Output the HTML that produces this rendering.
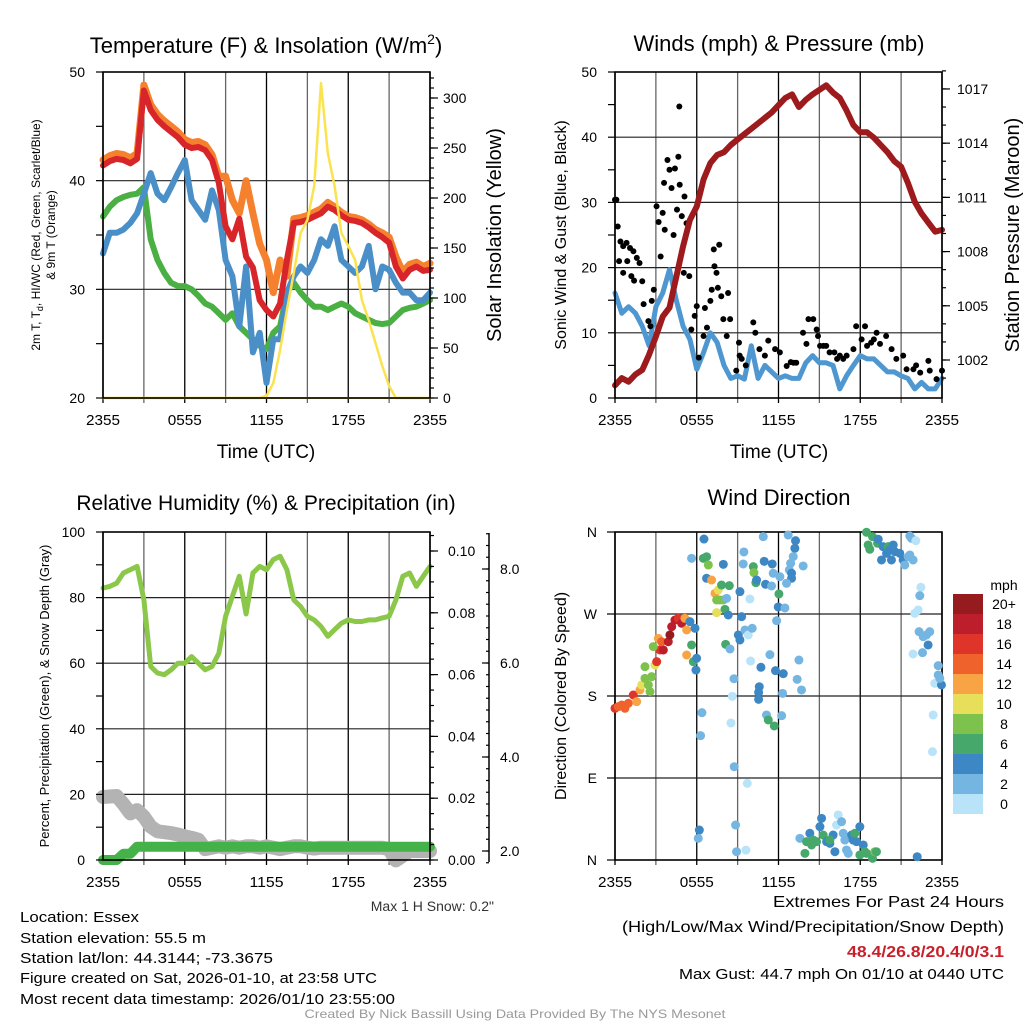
<!DOCTYPE html>
<html><head><meta charset="utf-8"><style>
html,body{margin:0;padding:0;background:#fff;}
svg{display:block;font-family:"Liberation Sans",Arial,sans-serif;}
</style></head><body>
<svg id="chart" width="1024" height="1024" viewBox="0 0 1024 1024" xmlns="http://www.w3.org/2000/svg">
<rect width="1024" height="1024" fill="#fff"/>
<g id="p1"></g>
<g id="p2"></g>
<g id="p3"></g>
<g id="p4"></g>
<g id="txt"></g>
</svg>
<script>
// ---- data ----
const hours = [0,0.5,1,1.5,2,2.5,3,3.5,4,4.5,5,5.5,6,6.5,7,7.5,8,8.5,9,9.5,10,10.5,11,11.5,12,12.5,13,13.5,14,14.5,15,15.5,16,16.5,17,17.5,18,18.5,19,19.5,20,20.5,21,21.5,22,22.5,23,23.5,24];
const timeLabels = ["2355","0555","1155","1755","2355"];
const tempRed = [41.4,41.8,42.0,41.9,41.6,42.0,48.3,46.5,45.6,45.0,44.5,44.0,43.3,43.0,43.1,42.8,41.9,39.8,35.8,34.6,36.5,33.0,32.0,29.0,28.1,27.5,28.7,32.7,36.1,36.2,36.4,36.7,37.0,37.6,37.3,36.8,36.4,36.3,36.1,35.7,35.2,34.8,34.3,32.1,31.0,31.8,32.1,31.7,31.8];
const temp9m = [41.9,42.3,42.5,42.4,42.1,42.5,48.8,47.0,46.1,45.5,45.0,44.5,43.8,43.5,43.6,43.3,42.4,40.4,40.4,38.2,37.0,40.0,37.0,34.2,32.7,29.7,32.7,31.2,36.5,36.6,36.8,37.1,37.4,38.0,37.6,37.1,36.7,36.6,36.4,36.0,35.5,35.2,34.8,33.0,31.6,32.3,32.5,32.1,32.4];
const tempHiWc = [33.3,35.2,35.2,35.5,36.1,37.0,38.8,40.7,38.8,38.2,39.4,40.7,41.9,38.2,37.3,36.4,39.1,37.3,32.7,31.2,26.6,32.1,24.2,26.0,21.4,25.4,25.4,29.7,31.2,32.1,31.5,32.7,34.6,34.0,35.8,32.7,32.1,31.5,32.1,34.0,30.0,32.1,31.8,30.6,29.7,29.7,29.0,29.0,29.7];
const dewpoint = [36.7,37.6,38.2,38.5,38.7,38.8,39.4,34.6,32.7,31.5,30.6,30.3,30.3,30.0,29.4,28.7,28.4,27.8,27.2,27.8,26.6,26.0,25.4,24.8,24.5,26.0,26.6,29.7,30.6,29.7,29.0,28.4,28.4,28.1,28.4,28.7,28.4,27.8,27.5,27.2,26.9,26.8,26.9,27.5,28.1,28.3,28.4,28.7,29.0];
const solar = [0,0,0,0,0,0,0,0,0,0,0,0,0,0,0,0,0,0,0,0,0,0,0,0,2,15,48,88,125,165,178,212,315,245,212,165,152,138,98,78,55,32,12,0,0,0,0,0,0];
const windSpeed = [16.1,13,14,13,11,8,14,16.1,19.7,15,11,9,4.4,7,10,8.5,5,3,3.4,2.9,8,3,5,4,3,3.4,3,3,5.4,6.5,5.4,5.4,5,1.4,3.4,5,6.5,6,6,5,4,4,3.4,3,1.4,2.4,1.4,1.4,3];
const pressure = [1000.6,1001.0,1000.8,1001.2,1001.45,1002.3,1003.3,1004.4,1004.9,1006.6,1008.3,1009.75,1010.5,1012.0,1012.9,1013.35,1013.5,1013.9,1014.2,1014.5,1014.8,1015.1,1015.4,1015.7,1016.1,1016.5,1016.7,1016.0,1016.4,1016.7,1016.95,1017.2,1016.8,1016.5,1015.8,1015.0,1014.6,1014.6,1014.3,1013.9,1013.5,1013.0,1012.7,1011.8,1010.75,1010.1,1009.6,1009.1,1009.2];
const gustHours = [0,0.1,0.2,0.4,0.6,0.85,1.1,1.35,1.6,0.3,0.6,1.2,1.8,2.0,2.1,2.45,2.6,2.7,2.85,3.05,3.2,3.35,3.5,3.6,3.65,3.85,4.0,4.15,4.3,4.4,4.55,4.65,4.72,4.75,4.9,5.1,5.25,5.05,5.45,5.6,5.85,6,6.15,6.5,6.6,6.75,7,7.1,7.25,7.3,7.45,7.55,7.65,7.8,7.95,8.2,8.3,8.45,8.9,9.15,9.3,9.1,10.15,10.3,10.6,11.25,11.75,12.1,12.6,13.1,13.3,13.8,14.05,14.2,14.55,14.8,14.9,15.05,15.3,15.5,15.75,16.1,16.3,16.75,17.0,17.5,17.7,18.35,18.5,18.8,19.2,19.45,19.9,20.3,20.65,21.15,21.4,21.9,22.4,23,23.1,23.6,24,0.9,1.4,9.6,11.0,12.9,16.5,18.1,19.0,22.1];
const gustVals = [30.4,30.4,26.3,24,23.3,23.8,23,22.5,21.5,21,19.2,18.7,20.7,17.9,14.4,11.8,11,14.9,16.6,29.4,27,21.7,28.4,33,25.8,36.5,35,32.2,25,35.2,28.9,37,44.7,32.7,27.9,30.9,26.8,19.2,18.7,10.5,12.6,14.1,6.2,9.5,13.8,10.8,14.9,16.6,22.8,20.2,19.2,16.9,23.5,15.6,12.1,9.5,16.1,12.1,4.2,6.5,6,8.5,11.6,10,7.5,8.8,7.5,7,4.9,5.4,5.4,10,8.3,12.1,12.1,10.5,9.5,8,8,8,7,7,6,6,6.5,7.5,11,11,8,8.5,10,8.3,9.5,7.5,6,6.5,4.4,4.4,3.9,5.7,4.2,2.9,4.2,21.0,18.0,5.0,6.5,5.5,6.5,9.0,9.0,5.0];
const rh = [82.9,83.4,84.4,87.5,88.5,89.5,79.3,59,57,56.5,58,60,60,62,60,58,59,63,74.3,80.4,86.5,75,87.5,89.5,88.5,91.6,92.6,88.5,79.3,77.3,74.3,73.2,71.2,68.2,70.2,72.2,73.2,72.7,72.7,73.2,73.2,73.8,74.3,79.3,86.5,87.5,83.4,86.5,89.5];
const precip = [0,0,0,0.002,0.002,0.0043,0.0043,0.0043,0.0043,0.0043,0.0043,0.0043,0.0043,0.0043,0.0043,0.0043,0.0043,0.0043,0.0043,0.0043,0.0043,0.0043,0.0043,0.0043,0.0043,0.0043,0.0043,0.0043,0.0043,0.0043,0.0043,0.0043,0.0043,0.0043,0.0043,0.0043,0.0043,0.0043,0.0043,0.0043,0.0043,0.0043,0.0043,0.0043,0.0043,0.0043,0.0043,0.0043,0.0043];
const snowDepth = [3.15,3.16,3.17,3.0,2.8,2.87,2.73,2.52,2.42,2.4,2.38,2.35,2.31,2.28,2.24,2.04,2.07,2.1,2.07,2.1,2.07,2.1,2.1,2.07,2.1,2.07,2.04,2.07,2.1,2.1,2.07,2.05,2.07,2.07,2.07,2.07,2.07,2.07,2.07,2.07,2.07,2.07,2.04,1.8,1.9,2.0,2.0,2.0,2.0];
const dirHours = [0.0,0.24,0.49,0.73,0.98,1.34,1.59,1.83,1.96,2.2,2.45,2.57,2.69,2.2,2.93,3.06,3.3,3.55,2.81,3.18,3.42,3.91,4.03,4.16,4.4,4.65,4.89,5.13,5.26,5.5,5.87,5.62,5.26,5.75,5.99,5.94,
5.62,6.48,6.72,6.85,6.53,6.72,7.09,7.34,7.58,7.82,7.7,7.46,7.95,8.39,8.19,7.46,8.07,8.31,7.95,9.29,9.17,9.05,9.17,9.54,9.78,10.07,9.46,9.9,9.41,10.15,10.2,10.34,10.39,10.88,10.95,11.05,11.54,11.49,11.61,12.03,11.98,12.47,12.71,13.25,13.2,13.08,13.81,12.89,12.79,12.96,12.96,12.59,12.1,11.86,8.12,8.44,8.73,8.61,11.37,9.95,10.71,11.78,12.35,13.5,13.37,13.69,12.3,10.59,10.54,10.54,11.12,11.25,11.69,12.23,6.38,6.28,8.51,8.75,9.71,8.85,8.92,9.61,6.19,6.11,
18.46,18.9,18.58,18.7,19.27,19.32,19.68,19.56,19.93,20.05,20.17,20.29,20.42,20.54,20.9,21.15,21.27,21.52,21.64,21.76,21.64,22.08,21.88,22.45,22.37,22.25,22.0,22.32,22.62,22.86,23.1,22.98,22.57,21.88,23.72,23.72,23.47,23.96,23.84,23.35,23.3,22.18,
13.57,13.94,14.06,14.3,14.43,14.79,15.04,15.16,15.28,15.53,15.77,16.01,16.14,16.38,16.26,16.63,16.75,16.87,16.99,17.12,17.36,17.48,17.6,17.73,17.97,17.97,18.22,18.34,18.46,18.9,19.07,19.19,15.77,14.55];
const dirDegs = [166.5,168.3,170.1,166.5,172,181.1,173.8,186.6,192.1,199.4,192.1,184.8,201.2,212.2,214,217.7,230.5,230.5,234.2,243.3,239.6,239.6,247,256.1,263.4,265.3,259.8,265.3,252.5,261.6,254.3,236,225,217.7,221.4,208.5,
331.1,331.1,332.9,323.8,352.3,309.2,307.3,292.7,296.4,301.8,285.4,285.4,285.4,301.1,287.2,271.5,275.1,268.9,324.5,267.1,294.5,247,241.5,252.5,247,254.3,338.1,286.5,324.9,322,315.4,304.4,307.3,354.9,327.8,302.6,324.9,300.8,314.7,292,277.7,276.6,356.7,350.5,342.1,333,322.7,325.6,318.3,314.7,309.2,303.7,311,262.7,236.7,231.6,199,179.6,225.4,218.4,211.5,207.8,204.5,219.5,198.3,186.6,182.9,190.2,184,176.3,159.2,153.7,147.1,158.4,161.7,136.5,150.4,102.4,84.1,38.4,9.1,10.9,32.9,23.8,
359.7,354.9,345.8,341,347.6,352,343.9,329.3,336.6,343.9,340.3,329.3,345.8,338.4,336.6,329.3,323.8,332.9,334.8,353.1,355.6,350.5,329.3,299.3,290.1,274.4,270.8,250.6,245.1,247,250.6,236,227.6,226.1,213.3,203.1,193.9,192.1,199.4,159.2,118.9,3.6,
23.8,7.3,20.1,29.3,16.5,20.1,36.6,45.7,27.4,20.1,18.3,27.4,9.1,49.4,38.4,42.1,29.3,21.9,11,7.3,27.4,21.9,29.3,20.1,36.6,5.5,16.5,9.1,7.3,1.8,9.1,9.1,21.9,21.9];
const dirSpeeds = [16,14,14,14,14,16,12,12,10,8,8,8,8,8,10,16,16,18,8,12,14,18,20,18,18,16,18,12,12,4,4,6,12,6,4,4,
2,6,6,8,4,4,12,12,10,6,8,8,8,6,2,10,6,4,4,4,4,4,4,2,0,2,2,0,2,6,8,6,4,2,4,4,4,2,2,6,4,2,2,4,4,2,2,2,2,4,4,2,2,2,6,2,2,0,2,0,4,4,4,2,2,2,2,4,4,4,2,6,6,2,2,2,0,2,0,2,2,0,4,2,
6,6,6,6,6,4,4,4,4,6,4,4,4,4,4,4,2,2,2,2,2,0,2,0,2,0,0,2,2,2,2,4,2,0,2,2,0,4,2,0,0,4,
2,6,6,4,6,6,4,4,6,4,4,4,4,0,0,2,2,2,2,2,4,4,6,4,4,6,4,6,6,6,8,6,6,6];
const speedBins = ["0","2","4","6","8","10","12","14","16","18","20+"];
const speedColors = ["#b9e3f8","#74b5e1","#3d87c4","#46a86b","#7cc24c","#e7df5a","#f8a445","#f0622b","#df3429","#bd1e2c","#961b1e"];

// ---- helpers ----
const NS="http://www.w3.org/2000/svg";
function mk(parent,tag,attrs){const e=document.createElementNS(NS,tag);for(const k in attrs)e.setAttribute(k,attrs[k]);parent.appendChild(e);return e;}
function txt(parent,x,y,s,size,anchor,extra){const e=mk(parent,'text',Object.assign({x:x,y:y,'font-size':size,'text-anchor':anchor||'middle',fill:'#000'},extra||{}));e.textContent=s;return e;}
const P1=document.getElementById('p1'),P2=document.getElementById('p2'),P3=document.getElementById('p3'),P4=document.getElementById('p4'),T=document.getElementById('txt');

const X1=h=>103+h*327/24, X2=h=>615+h*327/24;
const yT=t=>398-(t-20)*326/30, yS=w=>398-w*1.0;
const yW=v=>398-v*6.52, yP=p=>360-(p-1002)*18.07;
const yR=r=>860-r*3.28, yPr=p=>860-p*3090, ySn=d=>851-(d-2)*47;
const yD=d=>860-d*328/360;

function frame(g,x0,y0,x1,y1,xf){
  for(let h=0;h<=24;h+=3){
    const l=mk(g,'line',{x1:xf(h),x2:xf(h),y1:y0,y2:y1+5,stroke:(h%6==0)?'#000':'#666','stroke-width':1.3});
    
    
  }
  timeLabels.forEach((s,i)=>{
    const t=txt(g,xf(i*6),y1+27,s,15,'middle',{textLength:34,lengthAdjust:'spacingAndGlyphs'});
    
    
  });
}
function hgrid(g,x0,x1,y){const l=mk(g,'line',{x1:x0,x2:x1,y1:y,y2:y,stroke:'#222','stroke-width':1.2});
  
  }
function box(g,x0,y0,x1,y1){const r=mk(g,'rect',{x:x0,y:y0,width:x1-x0,height:y1-y0,fill:'none',stroke:'#000','stroke-width':1.6});
  
  }
function ticks(g,x,vals,yf,len,side){vals.forEach(v=>{const y=yf(v);mk(g,'line',{x1:x,x2:x+side*len,y1:y,y2:y,stroke:'#000','stroke-width':1.2});});}
function polyline(g,xs,ys,color,w,name){
  const pts=xs.map((x,i)=>x.toFixed(1)+','+ys[i].toFixed(1)).join(' ');
  const p=mk(g,'polyline',{points:pts,fill:'none',stroke:color,'stroke-width':w,'stroke-linejoin':'round','stroke-linecap':'round'});
  
  
  return p;
}
function range(a,b,s){const r=[];for(let v=a;v<=b+1e-9;v+=s)r.push(+v.toFixed(4));return r;}

// ---- Panel 1 ----
(function(){
  const g=P1;
  frame(g,103,72,430,398,X1);
  [30,40].forEach(v=>hgrid(g,103,430,yT(v)));
  polyline(g,hours.map(X1),dewpoint.map(yT),'#4bb044',6,'dewpoint-line');
  polyline(g,hours.map(X1),tempHiWc.map(yT),'#4a8fc7',6,'heat-index-windchill-line');
  polyline(g,hours.map(X1),temp9m.map(yT),'#f5812e',7,'temp-9m-line');
  polyline(g,hours.map(X1),tempRed.map(yT),'#d7252a',6,'temp-2m-line');
  polyline(g,hours.map(X1),solar.map(yS),'#fbe34f',2.5,'solar-insolation-line');
  mk(g,'line',{x1:103,x2:430,y1:398,y2:398,stroke:'#f2d33c','stroke-width':2});
  box(g,103,72,430,398);
  ticks(g,103,range(20,50,5),yT,7,-1);
  [20,30,40,50].forEach(v=>{const t=txt(g,85,yT(v)+5,String(v),14,'end');
    
    });
  ticks(g,430,range(0,320,10),yS,4,1);
  ticks(g,430,range(0,300,50),yS,8,1);
  [0,50,100,150,200,250,300].forEach(v=>{const t=txt(g,443,yS(v)+5,String(v),14,'start');
    
    });
  const ti=txt(g,266,53,'',22,'middle');ti.innerHTML='Temperature (F) &amp; Insolation (W/m<tspan font-size="14" dy="-9">2</tspan><tspan dy="9">)</tspan>';
  
  
  const xt=txt(g,266,458,'Time (UTC)',19,'middle');
  
  
  const y1=txt(g,0,0,'',12,'middle',{transform:'translate(40,235) rotate(-90)'});
  y1.innerHTML='2m T, T<tspan font-size="9" dy="3">d</tspan><tspan dy="-3">, HI/WC (Red, Green, Scarlet/Blue)</tspan>';
  
  
  const y2=txt(g,0,0,'& 9m T (Orange)',12,'middle',{transform:'translate(55,235) rotate(-90)'});
  
  
  const yr=txt(g,0,0,'Solar Insolation (Yellow)',20,'middle',{transform:'translate(501,235) rotate(-90)'});
  
  
})();

// ---- Panel 2 ----
(function(){
  const g=P2;
  frame(g,615,72,942,398,X2);
  [10,20,30,40].forEach(v=>hgrid(g,615,942,yW(v)));
  polyline(g,hours.map(X2),windSpeed.map(yW),'#4e97d0',5,'sonic-wind-line');
  gustHours.forEach((h,i)=>{const c=mk(g,'circle',{cx:X2(h),cy:yW(gustVals[i]),r:3,fill:'#000'});
    
    });
  polyline(g,hours.map(X2),pressure.map(yP),'#9e1b1d',6,'pressure-line');
  box(g,615,72,942,398);
  ticks(g,615,range(0,50,5),yW,7,-1);
  range(0,50,10).forEach(v=>{const t=txt(g,597,yW(v)+5,String(v),14,'end');
    
    });
  ticks(g,942,range(1001,1018,1),yP,4,1);
  ticks(g,942,range(1002,1017,3),yP,8,1);
  range(1002,1017,3).forEach(v=>{const t=txt(g,957,yP(v)+5,String(v),14,'start');
    
    });
  const ti=txt(g,779,51,'Winds (mph) & Pressure (mb)',22,'middle');
  
  
  const xt=txt(g,779,458,'Time (UTC)',19,'middle');
  
  
  const yl=txt(g,0,0,'Sonic Wind & Gust (Blue, Black)',16,'middle',{transform:'translate(566,235) rotate(-90)'});
  
  
  const yr=txt(g,0,0,'Station Pressure (Maroon)',20,'middle',{transform:'translate(1019,235) rotate(-90)'});
  
  
})();

// ---- Panel 3 ----
(function(){
  const g=P3;
  frame(g,103,532,430,860,X1);
  [20,40,60,80].forEach(v=>hgrid(g,103,430,yR(v)));
  polyline(g,hours.map(X1),snowDepth.map(ySn),'#b3b3b3',14,'snow-depth-line');
  polyline(g,hours.map(X1),precip.map(yPr),'#44b248',10,'precipitation-line');
  polyline(g,hours.map(X1),rh.map(yR),'#8bc84a',5,'relative-humidity-line');
  box(g,103,532,430,860);
  ticks(g,103,range(0,100,10),yR,7,-1);
  range(0,100,20).forEach(v=>{const t=txt(g,85,yR(v)+5,String(v),14,'end');
    
    });
  ticks(g,430,range(0,0.105,0.005),yPr,4,1);
  ticks(g,430,range(0,0.1,0.02),yPr,8,1);
  range(0,0.1,0.02).forEach(v=>{const t=txt(g,448,yPr(v)+5,v.toFixed(2),14,'start');
    
    });
  mk(g,'line',{x1:489,x2:489,y1:533,y2:862,stroke:'#000','stroke-width':1.5});
  ticks(g,489,range(1.75,8.75,0.25),ySn,3,-1);
  ticks(g,489,range(2,8,2),ySn,7,-1);
  range(2,8,2).forEach(v=>{const t=txt(g,500,ySn(v)+5,v.toFixed(1),14,'start');
    
    });
  const ti=txt(g,266,510,'Relative Humidity (%) & Precipitation (in)',21,'middle');
  
  
  const yl=txt(g,0,0,'Percent, Precipitation (Green), & Snow Depth (Gray)',13,'middle',{transform:'translate(49,696) rotate(-90)'});
  
  
  const sn=txt(g,494,911,'Max 1 H Snow: 0.2"',14,'end',{fill:'#333'});
  
  
})();

// ---- Panel 4 ----
(function(){
  const g=P4;
  frame(g,615,532,942,860,X2);
  [90,180,270].forEach(v=>hgrid(g,615,942,yD(v)));
  box(g,615,532,942,860);
  [[0,'N'],[90,'E'],[180,'S'],[270,'W'],[360,'N']].forEach(([d,s])=>{
    mk(g,'line',{x1:607,x2:615,y1:yD(d),y2:yD(d),stroke:'#000','stroke-width':1.2});
    const t=txt(g,597,yD(d)+5,s,14,'end');
    
    
  });
  dirHours.forEach((h,i)=>{
    const idx=Math.min(10,Math.floor(dirSpeeds[i]/2));
    const c=mk(g,'circle',{cx:X2(h),cy:yD(dirDegs[i]),r:4.5,fill:speedColors[idx]});
    
    
  });
  const ti=txt(g,779,505,'Wind Direction',22,'middle');
  
  
  const yl=txt(g,0,0,'Direction (Colored By Speed)',16,'middle',{transform:'translate(566,696) rotate(-90)'});
  
  
  const lg=mk(g,'g',{});
  
  
  const ut=txt(lg,1004,590,'mph',14,'middle');
  
  
  speedBins.slice().reverse().forEach((s,j)=>{
    const i=10-j;
    const r=mk(lg,'rect',{x:953,y:594+j*20,width:30,height:20,fill:speedColors[i]});
    
    
    const t=txt(lg,1004,609+j*20,s,14,'middle');
    
    
  });
})();

// ---- Text ----
(function(){
  const g=T;
  const left=[['Location: Essex',922,119],['Station elevation: 55.5 m',943,186],['Station lat/lon: 44.3144; -73.3675',963,253],['Figure created on Sat, 2026-01-10, at 23:58 UTC',983,357],['Most recent data timestamp: 2026/01/10 23:55:00',1004,375]];
  left.forEach(([s,y,w])=>{const t=txt(g,20,y,s,15,'start',{textLength:w,lengthAdjust:'spacingAndGlyphs'});
    
    });
  const r1=txt(g,1004,907,'Extremes For Past 24 Hours',16,'end',{textLength:231,lengthAdjust:'spacingAndGlyphs'});
  
  
  const r2=txt(g,1004,932,'(High/Low/Max Wind/Precipitation/Snow Depth)',16,'end',{textLength:382,lengthAdjust:'spacingAndGlyphs'});
  
  
  const r3=txt(g,1004,957,'48.4/26.8/20.4/0/3.1',16,'end',{fill:'#c8202a','font-weight':'bold',textLength:157,lengthAdjust:'spacingAndGlyphs'});
  
  
  const r4=txt(g,1004,979,'Max Gust: 44.7 mph On 01/10 at 0440 UTC',15,'end',{textLength:325,lengthAdjust:'spacingAndGlyphs'});
  
  
  const f=txt(g,515,1018,'Created By Nick Bassill Using Data Provided By The NYS Mesonet',12,'middle',{fill:'#999',textLength:421,lengthAdjust:'spacingAndGlyphs'});
  
  
})();
</script>
</body></html>
